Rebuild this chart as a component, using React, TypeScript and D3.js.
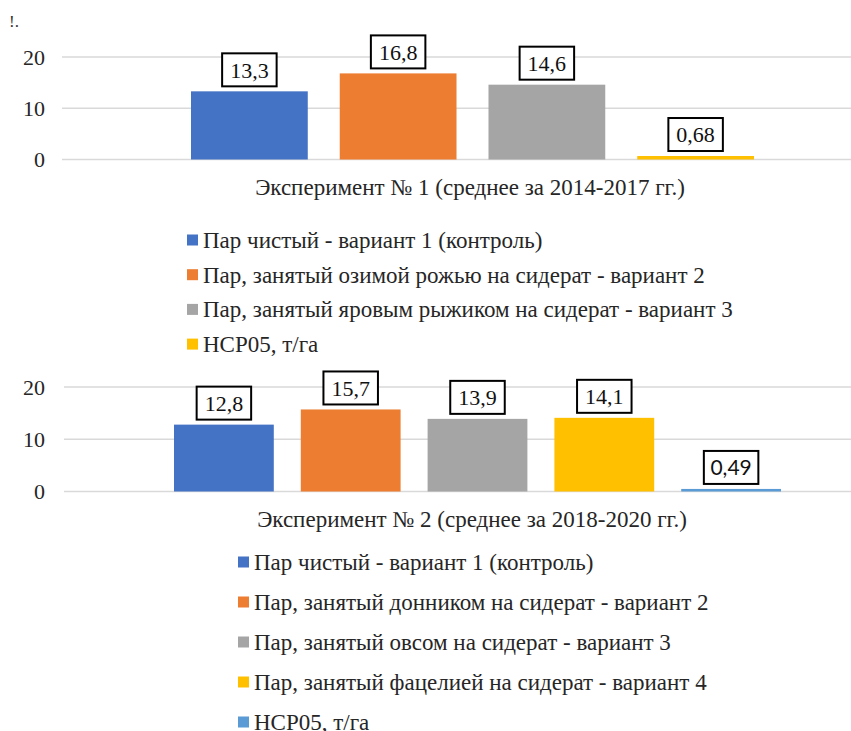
import React from "react";
import * as d3 from "d3";

const yTicks = [0, 10, 20];

const exp1Title = "Эксперимент № 1 (среднее за 2014-2017 гг.)";
const exp1Series = [
  "Пар чистый - вариант 1 (контроль)",
  "Пар, занятый озимой рожью на сидерат - вариант 2",
  "Пар, занятый яровым рыжиком на сидерат - вариант 3",
  "НСР05, т/га",
];
const exp1Values = [13.3, 16.8, 14.6, 0.68];
const exp1Labels = ["13,3", "16,8", "14,6", "0,68"];
const exp1Colors = ["#4472C4", "#ED7D31", "#A5A5A5", "#FFC000"];

const exp2Title = "Эксперимент № 2 (среднее за 2018-2020 гг.)";
const exp2Series = [
  "Пар чистый - вариант 1 (контроль)",
  "Пар, занятый донником на сидерат - вариант 2",
  "Пар, занятый овсом на сидерат - вариант 3",
  "Пар, занятый фацелией на сидерат - вариант 4",
  "НСР05, т/га",
];
const exp2Values = [12.8, 15.7, 13.9, 14.1, 0.49];
const exp2Labels = ["12,8", "15,7", "13,9", "14,1", "0,49"];
const exp2Colors = ["#4472C4", "#ED7D31", "#A5A5A5", "#FFC000", "#5B9BD5"];

const SERIF = "Liberation Serif, Tinos, DejaVu Serif, serif";
const SANS = "Lato, Liberation Sans, sans-serif";

type PanelProps = {
  title: string;
  series: string[];
  values: number[];
  labels: string[];
  colors: string[];
  y0: number;
  y20: number;
  gridLeft: number;
  clusterLeft: number;
  clusterRight: number;
  innerPad: number;
  titleX: number;
  titleY: number;
  legendX: number;
  legendY: number;
  legendStep: number;
  sansLabels: boolean[];
};

function labelWidth(s: string) {
  let w = 0;
  for (const c of s) w += c === "," ? 0.25 : 0.5;
  return w * 22 + 16;
}

function Panel(p: PanelProps) {
  const y = d3.scaleLinear().domain([0, 20]).range([p.y0, p.y20]);
  const x = d3
    .scaleBand<string>()
    .domain(p.series)
    .range([p.clusterLeft, p.clusterRight])
    .paddingInner(p.innerPad)
    .paddingOuter(0);
  return (
    <g>
      {yTicks.map((t) => (
        <g key={t}>
          <line x1={p.gridLeft} x2={851} y1={y(t)} y2={y(t)} stroke="#d9d9d9" strokeWidth={1.5} />
          <text x={45} y={y(t)} dy="0.35em" textAnchor="end" style={{ fontFamily: SERIF, fontSize: 22 }} fill="#262626">
            {t}
          </text>
        </g>
      ))}
      {p.series.map((s, i) => {
        const bx = x(s)!;
        const bw = x.bandwidth();
        const top = y(p.values[i]);
        const lw = labelWidth(p.labels[i]);
        const cx = bx + bw / 2;
        const boxBottom = top - 5;
        return (
          <g key={s}>
            <rect x={bx} y={top} width={bw} height={y(0) - top} fill={p.colors[i]} />
            <rect x={cx - lw / 2} y={boxBottom - 33} width={lw} height={33} fill="#fff" stroke="#000" strokeWidth={2} />
            <text
              x={cx}
              y={boxBottom - 16.5}
              dy="0.35em"
              textAnchor="middle"
              style={{ fontFamily: p.sansLabels[i] ? SANS : SERIF, fontSize: p.sansLabels[i] ? 21 : 22 }}
              fill="#111"
            >
              {p.labels[i]}
            </text>
          </g>
        );
      })}
      <text x={p.titleX} y={p.titleY} dy="0.35em" textAnchor="middle" style={{ fontFamily: SERIF, fontSize: 23 }} fill="#262626">
        {p.title}
      </text>
      {p.series.map((s, i) => (
        <g key={"lg" + i}>
          <rect x={p.legendX} y={p.legendY + i * p.legendStep - 5.5} width={11} height={11} fill={p.colors[i]} />
          <text
            x={p.legendX + 16}
            y={p.legendY + i * p.legendStep}
            dy="0.35em"
            style={{ fontFamily: SERIF, fontSize: 23 }}
            fill="#262626"
          >
            {s}
          </text>
        </g>
      ))}
    </g>
  );
}

export default function App() {
  return (
    <svg
      width={851}
      height={731}
      style={{ position: "absolute", left: 0, top: 0, background: "#fff" }}
    >
      <rect width={851} height={731} fill="#fff" />
      <text x={9} y={27} style={{ fontFamily: SERIF, fontSize: 17 }} fill="#333">
        !.
      </text>
      <Panel
        title={exp1Title}
        series={exp1Series}
        values={exp1Values}
        labels={exp1Labels}
        colors={exp1Colors}
        y0={159.5}
        y20={57}
        gridLeft={62}
        clusterLeft={191}
        clusterRight={754}
        innerPad={0.215}
        titleX={470}
        titleY={187}
        legendX={187}
        legendY={240}
        legendStep={34.7}
        sansLabels={[false, false, false, false]}
      />
      <Panel
        title={exp2Title}
        series={exp2Series}
        values={exp2Values}
        labels={exp2Labels}
        colors={exp2Colors}
        y0={491.5}
        y20={387}
        gridLeft={64}
        clusterLeft={174}
        clusterRight={781}
        innerPad={0.213}
        titleX={472}
        titleY={519}
        legendX={238}
        legendY={562}
        legendStep={40}
        sansLabels={[false, false, false, false, true]}
      />
    </svg>
  );
}
